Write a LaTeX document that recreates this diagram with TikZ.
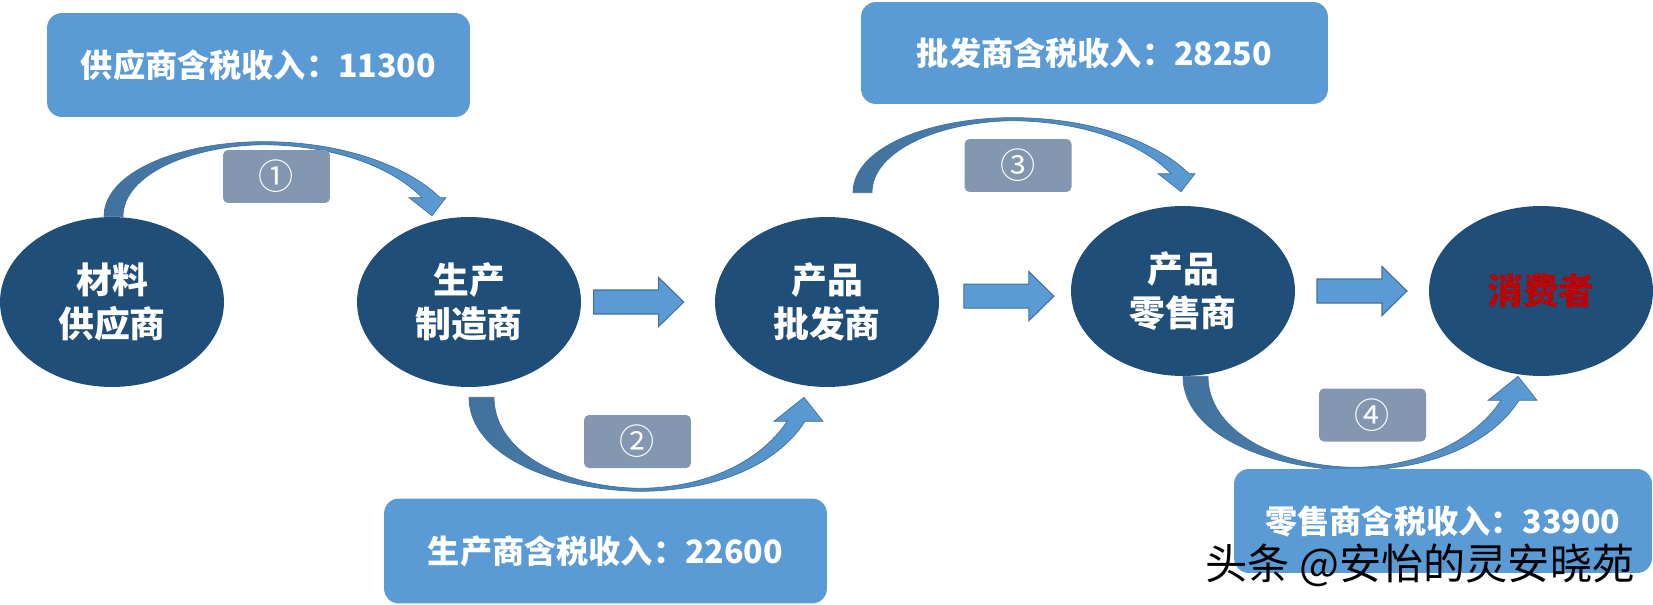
\documentclass[tikz,border=0pt]{standalone}
\usepackage{fontspec}
\setmainfont{Noto Sans CJK SC}
\usepackage{tikz}
\usetikzlibrary{shapes.geometric,calc}
\definecolor{navy}{HTML}{1F4E79}
\definecolor{skyblue}{HTML}{5B9BD5}
\definecolor{slateblue}{HTML}{41719C}
\definecolor{greyblue}{HTML}{8497B0}
\definecolor{alertred}{HTML}{C00000}
\tikzset{party/.style={ellipse,fill=navy,minimum width=4.48cm,minimum height=3.4cm,
  inner sep=0pt,text=white,align=center,font=\fontsize{20.4}{25}\selectfont\bfseries},
  income/.style={rounded corners=0.3cm,fill=skyblue,text=white,inner sep=0pt,
  font=\fontsize{18.3}{21}\selectfont\bfseries},
  tag/.style={rounded corners=0.1cm,fill=greyblue,text=white,minimum width=2.14cm,
  minimum height=1.06cm,inner sep=0pt,font=\fontsize{20}{20}\selectfont},
  bendarr/.style={draw=slateblue,line width=0.4pt,left color=slateblue,right color=skyblue},
  flatarr/.pic={\path[fill=skyblue,draw=slateblue,line width=0.6pt]
   (-45,-12)--(20,-12)--(20,-24.5)--(45,0)--(20,24.5)--(20,12)--(-45,12)--cycle;},
  overarc/.pic={\path[bendarr] (0,0) .. controls (0,-45) and (76,-75) .. (160,-75)
   .. controls (241,-75) and (306,-49) .. (336,-19) --(342,-19)--(328,-1)--(305,-19)--(318,-19)
   .. controls (291,-47) and (236,-71) .. (160,-72) .. controls (86,-71) and (19,-42) .. (19,0)--cycle;},
  underarc/.pic={\path[bendarr] (0,0) .. controls (0,58) and (86,93) .. (172,94)
   .. controls (256,93) and (311,63) .. (336,24) --(354,24)--(335,0)--(305,24)--(318,24)
   .. controls (296,58) and (246,90) .. (172,91) .. controls (91,90) and (25,53) .. (25,0)--cycle;}}
\begin{document}
\begin{tikzpicture}[x=0.02cm,y=-0.02cm]
 \useasboundingbox (0,0) rectangle (1653,605);
 \node[party] (e1) at (112,302) {材料\\供应商};
 \node[party] (e2) at (469,302) {生产\\制造商};
 \node[party] (e3) at (827,302) {产品\\批发商};
 \node[party] (e4) at (1183,291) {产品\\零售商};
 \node[party,text=alertred] (e5) at (1541,291) {消费者};
 \pic at ($(e2.east)!0.43!(e3.west)$) {flatarr};
 \pic at ($(e3.east)!0.53!(e4.west)$) {flatarr};
 \pic at ($(e4.east)!0.5!(e5.west)$) {flatarr};
 \pic at ($(e1.north)+(-8,0)$) {overarc};
 \pic at ($(e3.north)+(26,-24)$) {overarc};
 \pic at ($(e2.south)+(0,10)$) {underarc};
 \pic at (e4.south) {underarc};
 \node[tag] (n1) at (276.5,176.5) {①};
 \node[tag] (n2) at (637.5,441.5) {②};
 \node[tag] (n3) at (1018,165.5) {③};
 \node[tag] (n4) at (1372.5,415) {④};
 \node[income,minimum width=8.46cm,minimum height=2.08cm] (b1) at (258.5,65) {供应商含税收入：11300};
 \node[income,minimum width=9.34cm,minimum height=2.04cm] (b2) at (1094.5,53) {批发商含税收入：28250};
 \node[income,minimum width=8.86cm,minimum height=2.1cm] (b3) at (605.5,551) {生产商含税收入：22600};
 \node[income,minimum width=8.36cm,minimum height=2.08cm] (b4) at (1443,521) {零售商含税收入：33900};
 \node[font=\fontsize{24}{24}\selectfont] (w) at (1420,565) {头条 @安怡的灵安晓苑};
\end{tikzpicture}
\end{document}
